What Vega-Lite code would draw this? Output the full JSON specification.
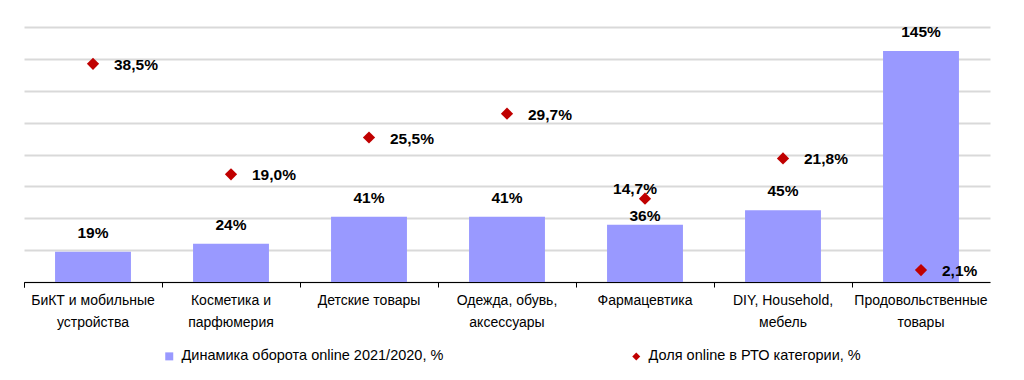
{
  "$schema": "https://vega.github.io/schema/vega-lite/v6.json",
  "autosize": "none",
  "width": 966,
  "height": 255,
  "padding": {"left": 24, "top": 27, "right": 34, "bottom": 98},
  "background": "white",
  "config": {
    "view": {"stroke": null},
    "locale": {"number": {"decimal": ",", "thousands": " ", "grouping": [3], "currency": ["", " ₽"]}},
    "font": "Liberation Sans"
  },
  "data": {
    "values": [
      {"category": "БиКТ и мобильные\nустройства", "growth": 0.19, "share": 0.385},
      {"category": "Косметика и\nпарфюмерия", "growth": 0.24, "share": 0.19},
      {"category": "Детские товары", "growth": 0.41, "share": 0.255},
      {"category": "Одежда, обувь,\nаксессуары", "growth": 0.41, "share": 0.297},
      {"category": "Фармацевтика", "growth": 0.36, "share": 0.147},
      {"category": "DIY, Household,\nмебель", "growth": 0.45, "share": 0.218},
      {"category": "Продовольственные\nтовары", "growth": 1.45, "share": 0.021}
    ]
  },
  "layer": [
    {
      "encoding": {
        "x": {
          "field": "category",
          "type": "nominal",
          "sort": null,
          "scale": {"paddingInner": 0.45, "paddingOuter": 0.225},
          "axis": {
            "title": null,
            "orient": "bottom",
            "labelAngle": 0,
            "labelExpr": "split(datum.label, '\\n')",
            "labelFont": "Liberation Sans",
            "labelFontSize": 14,
            "labelColor": "black",
            "labelLineHeight": 22,
            "labelPadding": 11,
            "domainColor": "black",
            "domainWidth": 1,
            "ticks": false,
            "grid": false
          }
        }
      },
      "layer": [
        {
          "mark": {"type": "bar"},
          "encoding": {
            "y": {
              "field": "growth",
              "type": "quantitative",
              "scale": {"domain": [0, 1.6], "nice": false},
              "axis": {
                "title": null,
                "labels": false,
                "ticks": false,
                "domain": false,
                "values": [0, 0.2, 0.4, 0.6, 0.8, 1.0, 1.2, 1.4, 1.6],
                "tickCount": 20,
                "grid": true,
                "gridColor": "#d9d9d9",
                "gridWidth": 2
              }
            },
            "color": {
              "datum": "Динамика оборота online 2021/2020, %",
              "scale": {
                "domain": ["Динамика оборота online 2021/2020, %", "Доля online в РТО категории, %"],
                "range": ["#9999ff", "#c00000"]
              },
              "legend": {
                "title": null,
                "orient": "none",
                "legendX": 138,
                "legendY": 322,
                "direction": "horizontal",
                "columns": 2,
                "columnPadding": 185,
                "padding": 0,
                "symbolSize": 64,
                "symbolStrokeWidth": 0,
                "labelFont": "Liberation Sans",
                "labelFontSize": 14.5,
                "labelColor": "black",
                "labelOffset": 5,
                "labelLimit": 400
              }
            }
          }
        },
        {
          "transform": [{"filter": "datum.category !== 'Фармацевтика'"}],
          "mark": {"type": "text", "fontWeight": "bold", "fontSize": 15.5, "dy": -14, "baseline": "alphabetic", "color": "black"},
          "encoding": {
            "y": {"field": "growth", "type": "quantitative"},
            "text": {"field": "growth", "type": "quantitative", "format": ".0%"}
          }
        },
        {
          "transform": [{"filter": "datum.category === 'Фармацевтика'"}],
          "mark": {"type": "text", "fontWeight": "bold", "fontSize": 15.5, "dy": -4, "baseline": "alphabetic", "color": "black"},
          "encoding": {
            "y": {"field": "growth", "type": "quantitative"},
            "text": {"field": "growth", "type": "quantitative", "format": ".0%"}
          }
        }
      ]
    },
    {
      "encoding": {
        "x": {
          "field": "category",
          "type": "nominal",
          "sort": null,
          "scale": {"paddingInner": 0.45, "paddingOuter": 0.225},
          "axis": {
            "title": null,
            "orient": "bottom",
            "labels": false,
            "domain": false,
            "grid": false,
            "ticks": true,
            "tickColor": "black",
            "tickWidth": 1,
            "tickSize": 5,
            "bandPosition": 0,
            "tickOffset": -31,
            "tickExtra": true
          }
        }
      },
      "layer": [
        {
          "mark": {"type": "point", "filled": true, "size": 150, "opacity": 1},
          "encoding": {
            "y": {
              "field": "share",
              "type": "quantitative",
              "scale": {"domain": [0, 0.45], "nice": false},
              "axis": null
            },
            "color": {"datum": "Доля online в РТО категории, %"},
            "shape": {
              "datum": "Доля online в РТО категории, %",
              "scale": {
                "domain": ["Динамика оборота online 2021/2020, %", "Доля online в РТО категории, %"],
                "range": ["square", "diamond"]
              }
            }
          }
        },
        {
          "transform": [{"filter": "datum.category !== 'Фармацевтика'"}],
          "mark": {"type": "text", "fontWeight": "bold", "fontSize": 15.5, "align": "left", "dx": 21, "dy": 1, "baseline": "middle", "color": "black"},
          "encoding": {
            "y": {"field": "share", "type": "quantitative"},
            "text": {"field": "share", "type": "quantitative", "format": ".1%"}
          }
        },
        {
          "transform": [{"filter": "datum.category === 'Фармацевтика'"}],
          "mark": {"type": "text", "fontWeight": "bold", "fontSize": 15.5, "align": "center", "dx": -10, "dy": -10, "baseline": "middle", "color": "black"},
          "encoding": {
            "y": {"field": "share", "type": "quantitative"},
            "text": {"field": "share", "type": "quantitative", "format": ".1%"}
          }
        }
      ]
    }
  ],
  "resolve": {"scale": {"y": "independent"}, "axis": {"x": "independent"}}
}
